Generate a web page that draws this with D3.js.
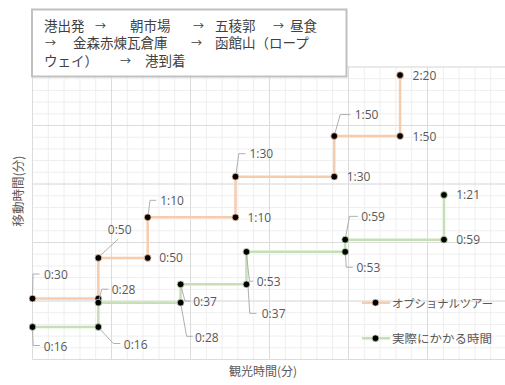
<!DOCTYPE html>
<html>
<head>
<meta charset="utf-8">
<script src="https://cdn.jsdelivr.net/npm/d3@7"></script>
<style>
  body { margin: 0; background: #fff; }
</style>
</head>
<body>
<svg id="svg" width="505" height="385"></svg>
<script>
// données (minutes)
var optX  = [0, 24, 24, 42, 42, 74, 74, 110, 110, 134, 134];
var optY  = [30, 30, 50, 50, 70, 70, 90, 90, 110, 110, 140];
var realX = [0, 24, 24, 54, 54, 78, 78, 114, 114, 150, 150];
var realY = [16, 16, 28, 28, 37, 37, 53, 53, 59, 59, 81];
var seriesNames = ["オプショナルツアー", "実際にかかる時間"];
var routeLines = [
  ["港出発", "→", "朝市場", "→", "五稜郭", "→", "昼食"],
  ["→", "金森赤煉瓦倉庫", "→", "函館山（ロープ"],
  ["ウェイ）", "→", "港到着"]
];
var xTitle = "観光時間(分)";
var yTitle = "移動時間(分)";
var xMax = 172.8, yMax = 144, majorStep = 28.8, minorStep = 5.76;

var svg = d3.select("#svg");
var jp = "'Noto Sans CJK JP', 'Noto Sans', sans-serif";
var num = "'Open Sans', 'Liberation Sans', sans-serif";

var scaleX = d3.scaleLinear().domain([0, xMax]).range([32.5, 506.5]);
var scaleY = d3.scaleLinear().domain([0, yMax]).range([359.5, 67]);

// grille
var gGrid = svg.append("g");
var minorX = d3.range(0, xMax + 0.01, minorStep);
var minorY = d3.range(0, yMax + 0.01, minorStep);
var majorX = d3.range(0, xMax + 0.01, majorStep);
var majorY = d3.range(0, yMax + 0.01, majorStep);
gGrid.selectAll(".mx").data(minorX).enter().append("line")
  .attr("x1", function(d){ return scaleX(d); }).attr("x2", function(d){ return scaleX(d); })
  .attr("y1", scaleY(0)).attr("y2", scaleY(yMax))
  .attr("stroke", "#eeeeee").attr("stroke-width", 1);
gGrid.selectAll(".my").data(minorY).enter().append("line")
  .attr("y1", function(d){ return scaleY(d); }).attr("y2", function(d){ return scaleY(d); })
  .attr("x1", scaleX(0)).attr("x2", scaleX(xMax))
  .attr("stroke", "#eeeeee").attr("stroke-width", 1);
gGrid.selectAll(".Mx").data(majorX).enter().append("line")
  .attr("x1", function(d){ return scaleX(d); }).attr("x2", function(d){ return scaleX(d); })
  .attr("y1", scaleY(0)).attr("y2", scaleY(yMax))
  .attr("stroke", "#dcdcdc").attr("stroke-width", 1);
gGrid.selectAll(".My").data(majorY).enter().append("line")
  .attr("y1", function(d){ return scaleY(d); }).attr("y2", function(d){ return scaleY(d); })
  .attr("x1", scaleX(0)).attr("x2", scaleX(xMax))
  .attr("stroke", "#dcdcdc").attr("stroke-width", 1);

function fmt(m) {
  var h = Math.floor(m / 60), mm = m % 60;
  return h + ":" + (mm < 10 ? "0" : "") + mm;
}

// placement des étiquettes : [dx, dy, leader] (null = pas d'étiquette)
var optLabels = [
  [11.5, -24.5, [[0,-2],[0.5,-24.5],[7,-24.5]]],
  null,
  [9.5, -28.5, [[1.5,-2],[20,-19]]],
  [11.5, 0, null],
  [12.5, -17, [[0.5,-2.5],[2.3,-17],[8.5,-17]]],
  [12, 0, null],
  [14, -23, [[0.5,-2],[3.3,-23],[10,-23]]],
  [12.5, 0, null],
  [20.5, -21.5, [[0.5,-2],[6,-21.5],[16,-21.5]]],
  [12.5, 0, null],
  [12.5, 0, null]
];
var realLabels = [
  [11.2, 19, [[0,2],[0.7,18.5],[7.5,18.5]]],
  [25.5, 17.5, [[1.5,2],[15,16.5],[22,16.5]]],
  [13.4, -13.4, [[0.5,-2],[3.4,-13.4],[10,-13.4]]],
  [14.3, 34.5, [[0.3,2],[6,33.7],[12,33.7]]],
  [12.6, 16.7, [[0.5,2],[4.3,16.7],[10,16.7]]],
  [15.3, 29, [[1.5,1],[3.3,29],[10,29]]],
  [10.3, 29.4, [[0,2],[3,29.4],[7,29.4]]],
  [11.3, 15.4, [[0.3,2],[1,15.4],[7.6,15.4]]],
  [16, -23.3, [[0.3,-2],[4.3,-23.3],[12.6,-23.3]]],
  [12.3, 0, null],
  [12.3, 0, null]
];

function drawSeries(xs, ys, color, labels) {
  var pts = xs.map(function(d, i){ return [d, ys[i]]; });
  var line = d3.line().x(function(d){ return scaleX(d[0]); }).y(function(d){ return scaleY(d[1]); });
  svg.append("path").datum(pts)
    .attr("d", line).attr("fill", "none")
    .attr("stroke", color).attr("stroke-width", 2.5);
  var g = svg.append("g");
  pts.forEach(function(p, i) {
    var l = labels[i];
    if (!l) return;
    var px = scaleX(p[0]), py = scaleY(p[1]);
    if (l[2]) {
      g.append("polyline")
        .attr("points", l[2].map(function(q){ return (px + q[0]) + "," + (py + q[1]); }).join(" "))
        .attr("fill", "none").attr("stroke", "#a6a6a6").attr("stroke-width", 0.9);
    }
    g.append("text").attr("x", px + l[0]).attr("y", py + l[1])
      .attr("dominant-baseline", "central")
      .style("font-family", num).style("font-size", "12px").style("fill", "#595959")
      .text(fmt(p[1]));
  });
  svg.selectAll(null).data(pts).enter().append("circle")
    .attr("cx", function(d){ return scaleX(d[0]); })
    .attr("cy", function(d){ return scaleY(d[1]); })
    .attr("r", 3.4).attr("fill", "#000")
    .attr("stroke", color).attr("stroke-width", 0.8);
}

drawSeries(optX, optY, "#f8cbad", optLabels);
drawSeries(realX, realY, "#c5e0b4", realLabels);

// Legende
var legColors = ["#f8cbad", "#c5e0b4"];
var legY = [302.7, 338.3];
var legLen = [101, 100];
seriesNames.forEach(function(n, i) {
  svg.append("line").attr("x1", 362).attr("x2", 390).attr("y1", legY[i]).attr("y2", legY[i])
    .attr("stroke", legColors[i]).attr("stroke-width", 2.5);
  svg.append("circle").attr("cx", 375.5).attr("cy", legY[i]).attr("r", 3.4)
    .attr("fill", "#000").attr("stroke", legColors[i]).attr("stroke-width", 0.8);
  svg.append("text").attr("x", 392).attr("y", legY[i])
    .attr("dominant-baseline", "central")
    .attr("textLength", legLen[i]).attr("lengthAdjust", "spacingAndGlyphs")
    .style("font-family", jp).style("font-size", "11.5px").style("fill", "#595959")
    .text(n);
});

// Titres des axes
svg.append("text").attr("x", 263).attr("y", 370)
  .attr("text-anchor", "middle").attr("dominant-baseline", "central")
  .style("font-family", jp).style("font-size", "12px").style("fill", "#595959")
  .text(xTitle);
svg.append("text").attr("transform", "translate(17,191) rotate(-90)")
  .attr("text-anchor", "middle").attr("dominant-baseline", "central")
  .style("font-family", jp).style("font-size", "12.5px").style("fill", "#595959")
  .text(yTitle);

// Zone de texte (itinéraire)
svg.append("rect").attr("x", 32).attr("y", 9.5).attr("width", 314.5).attr("height", 67)
  .attr("fill", "#fff").attr("stroke", "#c0c0c0").attr("stroke-width", 2);
var tokenX = [
  [44, 95, 130, 193, 215, 273, 290],
  [45, 73, 191, 215],
  [44, 120, 145]
];
var lineCy = [24.5, 42, 60];
routeLines.forEach(function(toks, r) {
  toks.forEach(function(t, k) {
    var txt = svg.append("text").attr("x", tokenX[r][k]).attr("y", lineCy[r])
      .attr("dominant-baseline", "central")
      .style("font-family", jp).style("font-size", t == "→" ? "11px" : "13.5px").style("fill", "#404040")
      .text(t);
  });
});
</script>
</body>
</html>
